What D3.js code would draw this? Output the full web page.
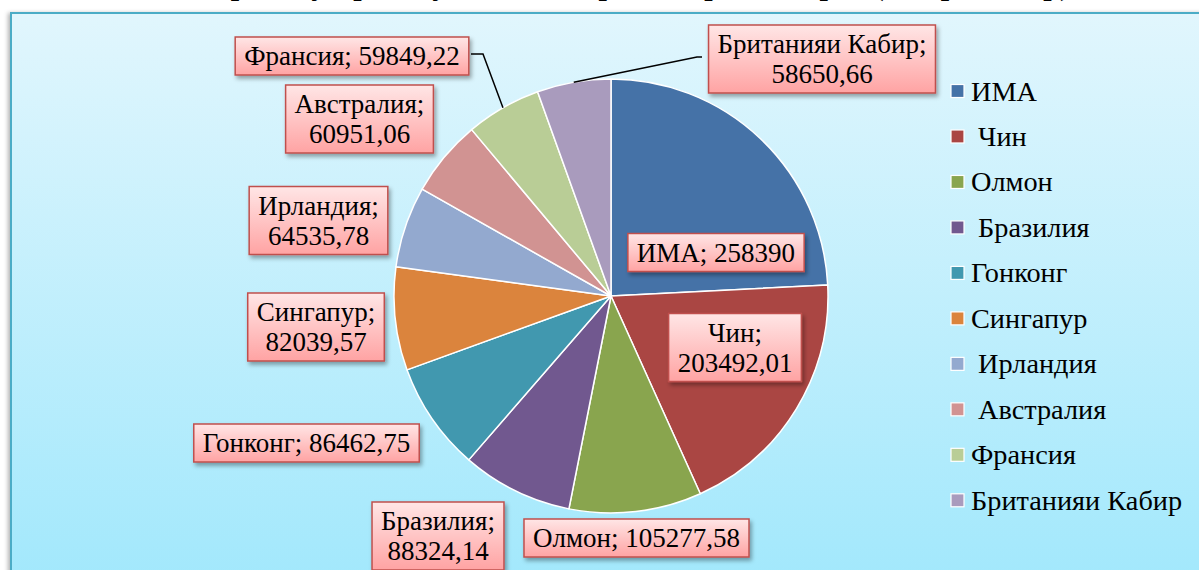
<!DOCTYPE html>
<html><head><meta charset="utf-8">
<script src="https://cdn.jsdelivr.net/npm/d3@7"></script>
<style>
body{margin:0;background:#fff;}
svg{display:block;font-family:"Liberation Serif","Times New Roman","DejaVu Serif",serif;}
text{fill:#000;}
</style>
</head><body>
<svg id="chart" width="1199" height="570"></svg>
<script>
// ---- data ----
const categories = ["ИМА","Чин","Олмон","Бразилия","Гонконг","Сингапур","Ирландия","Австралия","Франсия","Британияи Кабир"];
const legendLabels = ["ИМА"," Чин","Олмон"," Бразилия","Гонконг","Сингапур"," Ирландия"," Австралия","Франсия","Британияи Кабир"];
const values = [258390,203492.01,105277.58,88324.14,86462.75,82039.57,64535.78,60951.06,59849.22,58650.66];
const colors = ["#4572a7","#aa4643","#89a54e","#71588f","#4198af","#db843d","#93a9cf","#d19392","#b9cd96","#a99bbd"];
const titleText = "Сармоягузории мустақими хориҷӣ дар кишварҳо (ҳазор доллар)";

// ---- layout (label box centres, line splitting, leader elbows) ----
const labelCenters = [[716,252.5],[735,347.5],[636.5,538],[438,536],[306.5,443],[316,327],[318.5,220.5],[359.5,119],[352,56],[822,59]];
const labelTwoLines = [false,true,false,true,false,true,true,true,false,true];
const leaders = {8:[[483,54],[471,54]], 9:[[697,57],[702,57]]};

const FONT = '"Liberation Serif","Times New Roman","DejaVu Serif",serif';
const W=1199,H=570, cx=611, cy=296, R=217;
const svg=d3.select("#chart");
const defs=svg.append("defs");
const bg=defs.append("linearGradient").attr("id","bg").attr("x1",0).attr("y1",0).attr("x2",0).attr("y2",1);
bg.append("stop").attr("offset","0%").attr("stop-color","#e1f6fd");
bg.append("stop").attr("offset","100%").attr("stop-color","#a2e8fc");
const lg=defs.append("linearGradient").attr("id","lbl").attr("x1",0).attr("y1",0).attr("x2",0).attr("y2",1);
lg.append("stop").attr("offset","0%").attr("stop-color","#ffe6e6");
lg.append("stop").attr("offset","100%").attr("stop-color","#ffa3a3");
const sh=defs.append("filter").attr("id","sh").attr("x","-20%").attr("y","-20%").attr("width","140%").attr("height","160%");
sh.append("feDropShadow").attr("dx",2).attr("dy",3).attr("stdDeviation",2).attr("flood-color","#000").attr("flood-opacity",0.35);
const sh2=defs.append("filter").attr("id","sh2").attr("x","-5%").attr("y","-5%").attr("width","110%").attr("height","110%");
sh2.append("feDropShadow").attr("dx",-2).attr("dy",1).attr("stdDeviation",2).attr("flood-color","#000").attr("flood-opacity",0.3);

// title (cut off at top, as in the source)
svg.append("text").attr("x",632).attr("y",-5).attr("text-anchor","middle")
  .attr("font-family",FONT).attr("font-size",30).attr("font-weight","bold").text(titleText);

// plot area
svg.append("rect").attr("x",11).attr("y",13).attr("width",W).attr("height",H)
  .attr("fill","url(#bg)").attr("stroke","#4bacc6").attr("stroke-width",2).attr("filter","url(#sh2)");

// pie
const pie=d3.pie().sort(null).value(d=>d)(values);
const arc=d3.arc().innerRadius(0).outerRadius(R);
const g=svg.append("g").attr("transform",`translate(${cx},${cy})`);
g.selectAll("path").data(pie).join("path")
  .attr("d",arc).attr("fill",(d,i)=>colors[i])
  .attr("stroke","#fff").attr("stroke-width",1.5).attr("stroke-linejoin","round");

// leader lines
const outer=d3.arc().innerRadius(R).outerRadius(R);
Object.keys(leaders).forEach(k=>{
  const d=pie[+k]; const p=outer.centroid(d);
  const pts=[[cx+p[0],cy+p[1]],...leaders[k]];
  svg.append("path").attr("d",d3.line()(pts)).attr("fill","none").attr("stroke","#000").attr("stroke-width",1.5);
});

// labels
const fmt=v=>String(v).replace(".",",");
categories.forEach((c,i)=>{
  const [x,y]=labelCenters[i];
  const lines=labelTwoLines[i]?[c+";",fmt(values[i])]:[c+"; "+fmt(values[i])];
  const lgp=svg.append("g");
  const rect=lgp.append("rect");
  const t=lgp.append("text").attr("font-family",FONT).attr("font-size",27).attr("text-anchor","middle");
  lines.forEach((s,j)=>{
    t.append("tspan").attr("x",x).attr("y",y+9-(lines.length-1)*15+j*30).text(s);
  });
  let wmax=0; t.selectAll("tspan").each(function(){wmax=Math.max(wmax,this.getComputedTextLength());});
  const bw=wmax+18, bh=lines.length*30+8;
  rect.attr("x",x-bw/2).attr("y",y-bh/2).attr("width",bw).attr("height",bh)
    .attr("fill","url(#lbl)").attr("stroke","#c0504d").attr("stroke-width",1.5).attr("filter","url(#sh)");
});

// legend
const ly=d3.scalePoint().domain(d3.range(categories.length)).range([91,500.3]);
const leg=svg.append("g");
legendLabels.forEach((s,i)=>{
  const y=ly(i);
  leg.append("rect").attr("x",951).attr("y",y-6.5).attr("width",13).attr("height",13)
    .attr("fill",colors[i]).attr("stroke","#fff").attr("stroke-width",1.2);
  leg.append("text").attr("x",971).attr("y",y+9.5).attr("font-family",FONT).attr("font-size",28.3)
    .attr("xml:space","preserve").style("white-space","pre").text(s);
});
</script>
</body></html>
